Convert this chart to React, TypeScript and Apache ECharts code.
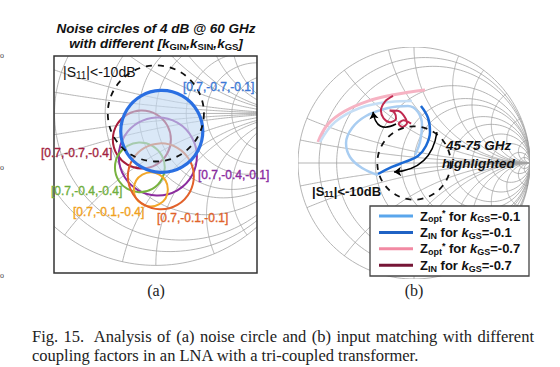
import React, { useEffect, useRef } from "react";
import * as echarts from "echarts";

// ---------- Smith chart grid values ----------
const resistanceGrid = [0, 0.1, 0.2, 0.5, 0.8, 1, 1.5, 2, 3, 5, 10, 20];
const resistanceLimit = [0, 0, 0, 0, 0, 0, 0, 0, 0, 0, 0, 0]; // 0 = unlimited
const reactanceGrid = [0.1, 0.2, 0.5, 0.8, 1, 1.5, 2, 3, 5, 10, 20];
const reactanceLimit = [0, 0, 0, 0, 0, 0, 0, 0, 0, 0, 0];
const s11LimitDb = -10;

// ---------- (a) noise circles of 4 dB @ 60 GHz (reflection-coefficient plane) ----------
const noiseLabels = [
  "[0.7,-0.7,-0.1]",
  "[0.7,-0.7,-0.4]",
  "[0.7,-0.4,-0.1]",
  "[0.7,-0.4,-0.4]",
  "[0.7,-0.1,-0.4]",
  "[0.7,-0.1,-0.1]",
];
const noiseCenterRe = [0.039, -0.092, 0.013, -0.105, -0.033, 0.033];
const noiseCenterIm = [-0.118, -0.171, -0.283, -0.355, -0.5, -0.414];
const noiseRadius = [0.27, 0.191, 0.257, 0.164, 0.112, 0.217];

// ---------- (b) input matching traces (Gamma re, im) ----------
const zoptKgs01Loop = [
  [-0.31, -0.103], [-0.448, -0.043], [-0.552, 0.052], [-0.586, 0.172], [-0.534, 0.302],
  [-0.414, 0.405], [-0.224, 0.474], [-0.052, 0.491], [0.034, 0.44], [0.069, 0.328],
  [0.052, 0.181], [0.009, 0.069],
];
const zoptKgs01Outer = [
  [-0.81, 0.181], [-0.681, 0.353], [-0.466, 0.474], [-0.207, 0.526], [-0.017, 0.534],
];
const zinKgs01 = [
  [0.06, 0.491], [0.121, 0.388], [0.138, 0.267], [0.103, 0.147], [0.034, 0.06],
  [-0.078, 0.009], [-0.19, -0.034], [-0.31, -0.095],
];
const zoptKgs07 = [
  [-0.828, 0.181], [-0.741, 0.336], [-0.595, 0.448], [-0.397, 0.534], [-0.19, 0.586],
  [-0.034, 0.612], [0.095, 0.629],
];
const zinKgs07 = [
  [-0.181, 0.578], [-0.25, 0.53], [-0.285, 0.45], [-0.262, 0.385], [-0.207, 0.352],
  [-0.155, 0.38], [-0.168, 0.435], [-0.21, 0.452], [-0.14, 0.45], [-0.085, 0.405],
  [-0.06, 0.345], [-0.1, 0.31], [-0.132, 0.338], [-0.09, 0.368], [-0.025, 0.34],
];
const arrowUpper = [[-0.155, 0.336], [-0.353, 0.44]];
const arrowLower = [[0.198, 0.267], [-0.172, -0.078]];

const legendNames = [
  "Z{sub|opt}{sup|*} for {k|k}{sub|GS}=-0.1",
  "Z{sub|IN} for {k|k}{sub|GS}=-0.1",
  "Z{sub|opt}{sup|*} for {k|k}{sub|GS}=-0.7",
  "Z{sub|IN} for {k|k}{sub|GS}=-0.7",
];

const captionLine1 = ["Fig.", "15.", "Analysis", "of", "(a)", "noise", "circle", "and", "(b)", "input", "matching", "with", "different"];
const captionLine2 = "coupling factors in an LNA with a tri-coupled transformer.";

// ---------- styling ----------
const SANS = "'Liberation Sans', Arial, sans-serif";
const SERIF = "'Liberation Serif', 'Times New Roman', serif";
const GRID_COLOR = "#a2a2a2";
const noiseColors = ["#2a6fe2", "#a61e3c", "#8b2c9e", "#78b33f", "#f2a72a", "#e2622b"];
const noiseLabelColors = ["#3b78d6", "#a31f3f", "#8a2aa0", "#6fae3c", "#f0a020", "#e0622a"];
const noiseLabelPos = [[183, 87], [41, 153], [198, 175], [51, 191], [73, 212], [157, 218]];
const legendColors = ["#5aa6ec", "#1f62c4", "#f28aa3", "#761636"];

function gamma(r: number, x: number): number[] {
  const d = (r + 1) * (r + 1) + x * x;
  return [(r * r - 1 + x * x) / d, (2 * x) / d];
}

function smithItems() {
  const items: number[][] = [];
  resistanceGrid.forEach((r, i) => items.push([0, r, resistanceLimit[i]]));
  reactanceGrid.forEach((x, i) => {
    items.push([1, x, reactanceLimit[i]]);
    items.push([1, -x, reactanceLimit[i]]);
  });
  items.push([2, 0, 0]);
  return items;
}

const renderSmithLine = (_p: any, api: any) => {
  const kind = api.value(0);
  const v = api.value(1);
  const lim = api.value(2);
  const pts: number[][] = [];
  const N = 180;
  const pm = lim > 0 ? Math.atan(lim) : Math.PI / 2 - 0.0004;
  if (kind === 0) {
    for (let i = 0; i <= N; i++) pts.push(api.coord(gamma(v, Math.tan(-pm + (2 * pm * i) / N))));
  } else if (kind === 1) {
    for (let i = 0; i <= N; i++) pts.push(api.coord(gamma(Math.tan((pm * i) / N), v)));
  } else {
    pts.push(api.coord([-1, 0]), api.coord([1, 0]));
  }
  return {
    type: "polyline",
    shape: { points: pts },
    style: { stroke: GRID_COLOR, lineWidth: 0.8, fill: "none" },
    silent: true,
  };
};

const circleRenderer = (styleFn: (i: number) => any) => (params: any, api: any) => {
  const c = api.coord([api.value(0), api.value(1)]);
  const r = api.size([api.value(2), api.value(2)])[0];
  return { type: "circle", shape: { cx: c[0], cy: c[1], r }, style: styleFn(params.dataIndex) };
};

function measure(text: string, font: string) {
  const ctx = document.createElement("canvas").getContext("2d")!;
  ctx.font = font;
  return ctx.measureText(text).width;
}

function richStyles(size: number, weight: string) {
  return {
    sub: { fontSize: Math.round(size * 0.68), fontWeight: weight, fontFamily: SANS, verticalAlign: "bottom", lineHeight: size * 0.8, fill: "#111" },
    sup: { fontSize: Math.round(size * 0.68), fontWeight: weight, fontFamily: SANS, verticalAlign: "top", lineHeight: size * 0.8, fill: "#111" },
    k: { fontSize: size, fontWeight: weight, fontStyle: "italic", fontFamily: SANS, lineHeight: size * 1.2, fill: "#111" },
  };
}

export default function App() {
  const ref = useRef<HTMLDivElement>(null);
  useEffect(() => {
    document.body.style.margin = "0";
    const chart = echarts.init(ref.current!, undefined, { renderer: "svg" });
    const s11R = Math.pow(10, s11LimitDb / 20);
    const grid = smithItems();

    // caption line 1, justified
    const capFont = `16.5px ${SERIF}`;
    const capLeft = 32;
    const capRight = 534;
    const sp = measure(" ", capFont);
    const widths = captionLine1.map((w) => measure(w, capFont));
    const weights = captionLine1.map((_, i) => (i === 1 ? 2 : 1)).slice(0, captionLine1.length - 1);
    const natural = widths.reduce((a, b) => a + b, 0) + weights.reduce((a, b) => a + b, 0) * sp;
    const extra = (capRight - capLeft - natural) / weights.length;
    const capWords: any[] = [];
    let cx = capLeft;
    captionLine1.forEach((w, i) => {
      capWords.push({
        type: "text", x: cx, y: 336, z: 20,
        style: { text: w, font: capFont, fill: "#222", verticalAlign: "middle" },
      });
      if (i < weights.length) cx += widths[i] + weights[i] * sp + extra;
    });

    const legendGraphics: any[] = [
      { type: "rect", shape: { x: 370, y: 206, width: 159, height: 70 }, style: { fill: "#fff", stroke: "#444", lineWidth: 1.3 }, z: 10 },
    ];
    legendNames.forEach((n, i) => {
      const y = 216 + i * 16.4;
      legendGraphics.push({ type: "line", shape: { x1: 379, y1: y, x2: 413, y2: y }, style: { stroke: legendColors[i], lineWidth: 3 }, z: 11 });
      legendGraphics.push({
        type: "text", x: 420, y: y, z: 11,
        style: {
          text: n, fontSize: 13, fontWeight: "bold", fontFamily: SANS, fill: "#111",
          verticalAlign: "middle", lineHeight: 15, rich: richStyles(13, "bold"),
        },
      });
    });

    const option: any = {
      animation: false,
      grid: [
        { left: 54, top: 56, width: 203, height: 217 },
        { left: 298, top: 47, width: 232, height: 232 },
      ],
      xAxis: [
        { gridIndex: 0, type: "value", min: -0.67, max: 0.6655, show: false },
        { gridIndex: 1, type: "value", min: -1, max: 1, show: false },
      ],
      yAxis: [
        { gridIndex: 0, type: "value", min: -1.05, max: 0.378, show: false },
        { gridIndex: 1, type: "value", min: -1, max: 1, show: false },
      ],
      series: [
        // (a) grid
        { type: "custom", xAxisIndex: 0, yAxisIndex: 0, renderItem: renderSmithLine, data: grid, clip: true, silent: true, z: 1 },
        // (a) noise circles except blue
        {
          type: "custom", xAxisIndex: 0, yAxisIndex: 0, z: 3, silent: true,
          data: noiseLabels.slice(1).map((_, j) => [noiseCenterRe[j + 1], noiseCenterIm[j + 1], noiseRadius[j + 1]]),
          renderItem: circleRenderer((i) => ({ fill: "none", stroke: noiseColors[i + 1], lineWidth: 2 })),
        },
        // (a) blue filled circle
        {
          type: "custom", xAxisIndex: 0, yAxisIndex: 0, z: 4, silent: true,
          data: [[noiseCenterRe[0], noiseCenterIm[0], noiseRadius[0]]],
          renderItem: circleRenderer(() => ({ fill: "rgba(196,218,242,0.62)", stroke: noiseColors[0], lineWidth: 3.2 })),
        },
        // (a) |S11| circle
        {
          type: "custom", xAxisIndex: 0, yAxisIndex: 0, z: 5, silent: true,
          data: [[0, 0, s11R]],
          renderItem: circleRenderer(() => ({ fill: "none", stroke: "#111", lineWidth: 1.8, lineDash: [6, 6] })),
        },
        // (b) grid
        { type: "custom", xAxisIndex: 1, yAxisIndex: 1, renderItem: renderSmithLine, data: grid, clip: true, silent: true, z: 1 },
        // (b) traces
        { type: "line", xAxisIndex: 1, yAxisIndex: 1, data: zoptKgs07, smooth: 0.4, showSymbol: false, lineStyle: { color: "#f6b3c3", width: 3 }, z: 3 },
        { type: "line", xAxisIndex: 1, yAxisIndex: 1, data: zoptKgs01Outer, smooth: 0.4, showSymbol: false, lineStyle: { color: "#c6def5", width: 2.5 }, z: 3 },
        { type: "line", xAxisIndex: 1, yAxisIndex: 1, data: zoptKgs01Loop, smooth: 0.4, showSymbol: false, lineStyle: { color: "#a9cdf1", width: 2.5 }, z: 3 },
        { type: "line", xAxisIndex: 1, yAxisIndex: 1, data: zinKgs01, smooth: 0.4, showSymbol: false, lineStyle: { color: "#1c6ad4", width: 2.5 }, z: 4 },
        { type: "line", xAxisIndex: 1, yAxisIndex: 1, data: zinKgs07, smooth: 0.3, showSymbol: false, lineStyle: { color: "#c02a50", width: 2 }, z: 4 },
        // (b) |S11| circle
        {
          type: "custom", xAxisIndex: 1, yAxisIndex: 1, z: 5, silent: true,
          data: [[0, 0, s11R]],
          renderItem: circleRenderer(() => ({ fill: "none", stroke: "#111", lineWidth: 1.8, lineDash: [6, 6] })),
        },
        // (b) arrows
        {
          type: "lines", coordinateSystem: "cartesian2d", xAxisIndex: 1, yAxisIndex: 1, z: 6,
          symbol: ["none", "arrow"], symbolSize: 7,
          lineStyle: { color: "#000", width: 1.5, curveness: 0.7, opacity: 1 },
          data: [{ coords: arrowUpper }],
        },
        {
          type: "lines", coordinateSystem: "cartesian2d", xAxisIndex: 1, yAxisIndex: 1, z: 6,
          symbol: ["none", "arrow"], symbolSize: 7,
          lineStyle: { color: "#000", width: 1.5, curveness: 0.4, opacity: 1 },
          data: [{ coords: arrowLower }],
        },
      ],
      graphic: [
        // (a) frame
        { type: "rect", shape: { x: 54, y: 56, width: 203, height: 217 }, style: { fill: "none", stroke: "#333", lineWidth: 1.5 }, z: 10 },
        // (a) title
        {
          type: "text", x: 156, y: 28, z: 10,
          style: { text: "Noise circles of 4 dB @ 60 GHz", fontSize: 13.5, fontWeight: "bold", fontStyle: "italic", fontFamily: SANS, fill: "#111", align: "center", verticalAlign: "middle" },
        },
        {
          type: "text", x: 156, y: 43, z: 10,
          style: {
            text: "with different [{k|k}{s|GIN},{k|k}{s|SIN},{k|k}{s|GS}]",
            fontSize: 13.5, fontWeight: "bold", fontStyle: "italic", fontFamily: SANS, fill: "#111",
            align: "center", verticalAlign: "middle", lineHeight: 16,
            rich: {
              k: { fontSize: 13.5, fontWeight: "bold", fontStyle: "italic", fontFamily: SANS, fill: "#111", lineHeight: 16 },
              s: { fontSize: 9.5, fontWeight: "bold", fontFamily: SANS, fill: "#111", verticalAlign: "bottom", lineHeight: 12 },
            },
          },
        },
        // (a) |S11| label
        {
          type: "text", x: 63, y: 72, z: 10,
          style: { text: "|S{sub|11}|<-10dB", fontSize: 14, fontFamily: SANS, fill: "#111", verticalAlign: "middle", lineHeight: 16, rich: richStyles(14, "normal") },
        },
        // (a) noise circle labels
        ...noiseLabels.map((t, i) => ({
          type: "text", x: noiseLabelPos[i][0], y: noiseLabelPos[i][1], z: 10,
          style: { text: t, fontSize: 12, fontFamily: SANS, fill: noiseLabelColors[i], stroke: noiseLabelColors[i], lineWidth: 0.35, verticalAlign: "middle" },
        })),
        // (b) texts
        {
          type: "text", x: 446, y: 145, z: 10,
          style: { text: "45-75 GHz", fontSize: 13.5, fontWeight: "bold", fontStyle: "italic", fontFamily: SANS, fill: "#111", verticalAlign: "middle" },
        },
        {
          type: "text", x: 442, y: 163, z: 10,
          style: { text: "highlighted", fontSize: 13.5, fontWeight: "bold", fontStyle: "italic", fontFamily: SANS, fill: "#111", verticalAlign: "middle" },
        },
        {
          type: "text", x: 312, y: 191, z: 10,
          style: { text: "|S{sub|11}|<-10dB", fontSize: 13, fontWeight: "bold", fontFamily: SANS, fill: "#111", verticalAlign: "middle", lineHeight: 15, rich: richStyles(13, "bold") },
        },
        ...legendGraphics,
        // panel labels
        { type: "text", x: 156, y: 290, z: 10, style: { text: "(a)", font: `16px ${SERIF}`, fill: "#222", align: "center", verticalAlign: "middle" } },
        { type: "text", x: 414, y: 290, z: 10, style: { text: "(b)", font: `16px ${SERIF}`, fill: "#222", align: "center", verticalAlign: "middle" } },
        // caption
        ...capWords,
        { type: "text", x: capLeft, y: 355, z: 20, style: { text: captionLine2, font: capFont, fill: "#222", verticalAlign: "middle" } },
        // small characters at left edge (from neighbouring figure)
        { type: "text", x: 0, y: 55, z: 10, style: { text: "o", font: `8px ${SERIF}`, fill: "#444", verticalAlign: "middle" } },
        { type: "text", x: 0, y: 167, z: 10, style: { text: "o", font: `8px ${SERIF}`, fill: "#444", verticalAlign: "middle" } },
        { type: "text", x: 0, y: 275, z: 10, style: { text: "o", font: `8px ${SERIF}`, fill: "#444", verticalAlign: "middle" } },
      ],
    };
    chart.setOption(option);
    return () => chart.dispose();
  }, []);
  return <div ref={ref} style={{ width: 560, height: 367, background: "#fff" }} />;
}
